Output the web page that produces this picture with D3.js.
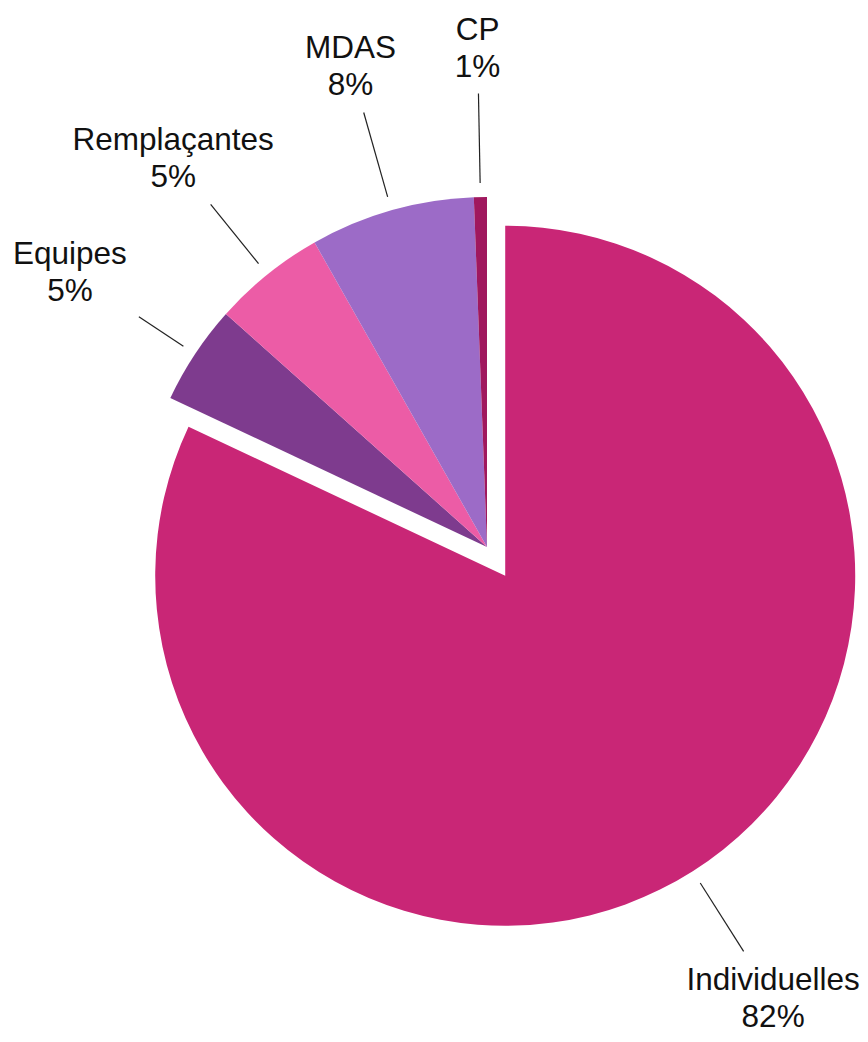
<!DOCTYPE html>
<html>
<head>
<meta charset="utf-8">
<script src="https://cdnjs.cloudflare.com/ajax/libs/d3/7.8.5/d3.min.js"></script>
<style>
  body { margin: 0; background: #fff; }
  .label { font-family: 'Liberation Sans', Arial, Helvetica, sans-serif; font-size: 31.5px; fill: #111; }
</style>
</head>
<body>
<div class="chart"></div>
<script>
const categories = ['Individuelles', 'Equipes', 'Remplaçantes', 'MDAS', 'CP'];
const values = [82.0, 4.6, 5.2, 7.6, 0.6];
const colors = ['#C92676', '#7E3B8E', '#EC5CA6', '#9C6BC7', '#A0185E'];
const exploded = ['Individuelles'];

const width = 868;
const height = 1042;
const cx = 487;
const cy = 547;
const radius = 350;
const explode = 34;
const labelRadius = 500;
const lineHeight = 37;

const svg = d3.select('.chart')
    .append('svg')
    .attr('width', width)
    .attr('height', height);

const total = d3.sum(values);
const pie = d3.pie().sort(null).value(d => d)(values);
const arc = d3.arc().innerRadius(0).outerRadius(radius);

function offsetOf(d, i) {
  if (!exploded.includes(categories[i])) return [0, 0];
  const a = (d.startAngle + d.endAngle) / 2;
  return [Math.sin(a) * explode, -Math.cos(a) * explode];
}

const slices = svg.append('g')
    .attr('transform', `translate(${cx}, ${cy})`);

slices.selectAll('path')
    .data(pie)
    .enter()
    .append('path')
    .attr('d', arc)
    .attr('fill', (d, i) => colors[i])
    .attr('transform', (d, i) => {
      const o = offsetOf(d, i);
      return `translate(${o[0]}, ${o[1]})`;
    });

// labels with leader lines
pie.forEach((d, i) => {
  const a = (d.startAngle + d.endAngle) / 2;
  const o = offsetOf(d, i);
  const ux = Math.sin(a), uy = -Math.cos(a);
  const ox = cx + o[0], oy = cy + o[1];
  const lx = ox + ux * labelRadius;
  const ly = oy + uy * labelRadius;

  const g = svg.append('g');
  g.append('text')
      .attr('class', 'label')
      .attr('x', lx)
      .attr('y', ly - lineHeight / 2 + 11)
      .attr('text-anchor', 'middle')
      .text(categories[i]);
  g.append('text')
      .attr('class', 'label')
      .attr('x', lx)
      .attr('y', ly + lineHeight / 2 + 11)
      .attr('text-anchor', 'middle')
      .text(Math.round(values[i] / total * 100) + '%');

  const bb = g.node().getBBox();
  const hw = bb.width / 2 + 12;
  const hh = bb.height / 2 + 10;
  const t = Math.min(hw / Math.max(Math.abs(ux), 1e-6), hh / Math.max(Math.abs(uy), 1e-6));
  const r1 = radius + 14;
  const r2 = labelRadius - t;

  svg.append('line')
      .attr('x1', ox + ux * r1)
      .attr('y1', oy + uy * r1)
      .attr('x2', ox + ux * r2)
      .attr('y2', oy + uy * r2)
      .attr('stroke', '#222')
      .attr('stroke-width', 1.2);
});
</script>
</body>
</html>
